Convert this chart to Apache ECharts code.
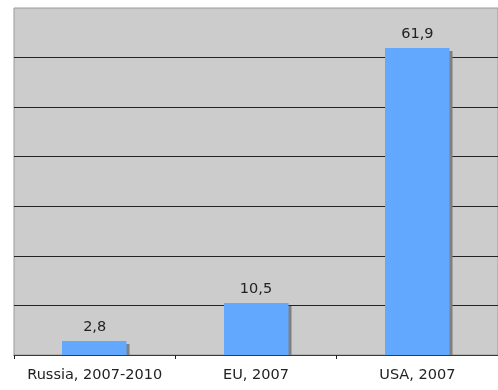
<!DOCTYPE html>
<html><head><meta charset="utf-8">
<script src="https://cdn.jsdelivr.net/npm/echarts@6/dist/echarts.min.js"></script>
<style>html,body{margin:0;padding:0;background:#fff}#c{width:498px;height:390px}</style>
</head><body><div id="c"></div>
<script>
const categories = ['Russia, 2007-2010', 'EU, 2007', 'USA, 2007'];
const values = [2.8, 10.5, 61.9];
const yMin = 0, yMax = 70, yStep = 10;

const FONT = 'DejaVu Sans';
const chart = echarts.init(document.getElementById('c'), null, {renderer: 'canvas'});
chart.setOption({
  animation: false,
  grid: {left: 14, top: 8, right: -2, bottom: 35, show: true, backgroundColor: '#cccccc', borderColor: '#9a9a9a', borderWidth: 1},
  xAxis: {
    type: 'category', data: categories, z: 10,
    axisLine: {lineStyle: {color: '#3a3a3a', width: 1}},
    axisTick: {show: true, interval: 0, length: 4, lineStyle: {color: '#222'}},
    axisLabel: {color: '#222', fontFamily: FONT, fontSize: 14.5, margin: 13, interval: 0, hideOverlap: false}
  },
  yAxis: {
    type: 'value', min: yMin, max: yMax, interval: yStep,
    axisLabel: {show: false}, axisLine: {show: false}, axisTick: {show: false},
    splitLine: {show: true, showMaxLine: false, showMinLine: false, lineStyle: {color: '#222', width: 1}}
  },
  series: [{
    type: 'custom',
    data: values.map((v, i) => [i, v]),
    encode: {x: 0, y: 1},
    renderItem: function (params, api) {
      const top = api.coord([api.value(0), api.value(1)]);
      const base = api.coord([api.value(0), 0]);
      const w = api.size([1, 0])[0] * 0.4;
      const x0 = Math.round(top[0] - w / 2);
      const y0 = Math.round(top[1]);
      const yb = Math.round(base[1]);
      const txt = String(api.value(1)).replace('.', ',');
      return {
        type: 'group',
        children: [
          {type: 'rect', shape: {x: x0 + 3, y: y0 + 3, width: w, height: yb - y0 - 3}, style: {fill: '#808080'}},
          {type: 'rect', shape: {x: x0, y: y0, width: w, height: yb - y0}, style: {fill: '#62a8ff'}},
          {type: 'text', style: {x: top[0], y: y0 - 6, text: txt, textAlign: 'center', textVerticalAlign: 'bottom',
            fill: '#222', font: '14.5px "' + FONT + '"'}}
        ]
      };
    }
  }]
});
</script></body></html>
